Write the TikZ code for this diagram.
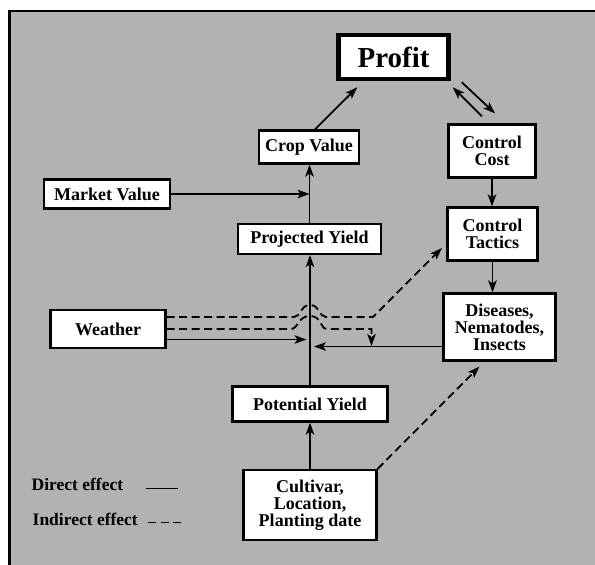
\documentclass[tikz,border=0pt]{standalone}
\usepackage{fontspec}
\setmainfont{Liberation Serif}
\usetikzlibrary{arrows.meta}

\begin{document}
\begin{tikzpicture}[x=1pt,y=-1pt]
        \tikzset{box/.style = {shape=rectangle,draw,fill=white,line width=2.2pt,inner sep=0pt,align=center,font=\bfseries\fontsize{18}{17}\selectfont}}
        \tikzset{edge/.style = {-{Stealth[length=12pt,width=8.5pt,inset=3pt]},line width=1.8pt}}
        \tikzset{dashededge/.style = {edge,dash pattern=on 8pt off 4.5pt}}
        \tikzset{legend/.style = {anchor=base west,inner sep=0pt,font=\bfseries\fontsize{17.5}{17}\selectfont}}
        \clip (0,0) rectangle (595,565);
        \draw[line width=2.4pt,fill=black!30] (9.5,11) rectangle (640,600);

        \node[box,line width=4.5pt,minimum width=110pt,minimum height=44pt,font=\bfseries\fontsize{29}{29}\selectfont] (profit) at (393.5,57) {Profit};
        \node[box,minimum width=100pt,minimum height=33pt] (crop) at (309,147) {Crop Value};
        \node[box,minimum width=87pt,minimum height=53pt] (cost) at (492,151) {Control\\Cost};
        \node[box,minimum width=126pt,minimum height=29pt] (market) at (107,194) {Market Value};
        \node[box,minimum width=143pt,minimum height=30pt] (proj) at (309.5,239) {Projected Yield};
        \node[box,minimum width=90pt,minimum height=53pt] (tactics) at (492.5,234) {Control\\Tactics};
        \node[box,minimum width=112pt,minimum height=67pt] (dis) at (499.5,327) {Diseases,\\Nematodes,\\Insects};
        \node[box,minimum width=115pt,minimum height=38pt] (weather) at (108,329) {Weather};
        \node[box,minimum width=155pt,minimum height=35pt] (pot) at (310,404) {Potential Yield};
        \node[box,minimum width=133pt,minimum height=70pt] (cult) at (310,505) {Cultivar,\\Location,\\Planting date};

        \coordinate (wtip) at (306.5,339.5);
        \coordinate (dtip) at (314,346.5);
        \coordinate (djoin) at (371.5,346);

        \draw[edge] ([xshift=6pt]crop.north) to ([xshift=21pt,yshift=-6pt]profit.south west);
        \draw[edge] ([xshift=-10pt,yshift=7pt]cost.north) to ([xshift=2pt,yshift=-6pt]profit.south east);
        \draw[edge] ([xshift=11pt,yshift=-1pt]profit.south east) to ([xshift=3pt,yshift=10pt]cost.north);
        \draw[edge] (cost.south) to (cost.south |- tactics.north);
        \draw[edge] (tactics.south) to (tactics.south |- dis.north);

        \draw[edge] (market.east) to (market.east -| proj.north);
        \draw[edge] (proj.north) to (proj.north |- crop.south);
        \draw[edge] (pot.north) to (pot.north |- proj.south);
        \draw[edge] (cult.north) to (pot.south);

        \draw[edge] ([yshift=-10.5pt]weather.east) to (wtip);
        \draw[edge] ([yshift=-19.5pt]dis.west) to (dtip);

        \draw[dashededge] ([yshift=12pt]weather.east) -- (294,317)
          .. controls (301,317) and (300,305) .. (310,305)
          .. controls (320,305) and (319,317) .. (326,317)
          -- (373,317) -- ([xshift=-4.5pt,yshift=-14pt]tactics.west);
        \draw[dashededge] (weather.east) -- (291,329)
          .. controls (298,329) and (298,316) .. (310,316)
          .. controls (322,316) and (320,329) .. (327,329)
          -- (371.5,329) -- (djoin);
        \draw[dashededge] (cult.north east) to ([xshift=37pt,yshift=-5pt]dis.south west);

        \node[legend] (direct) at (31.5,490.5) {Direct effect};
        \node[legend] (indirect) at (32.5,525) {Indirect effect};
        \draw[line width=1.8pt] (146,488.5) -- ++(32,0);
        \draw[line width=1.8pt,dash pattern=on 8pt off 4.5pt] (148,522.5) -- ++(34,0);
      \end{tikzpicture}
\end{document}
